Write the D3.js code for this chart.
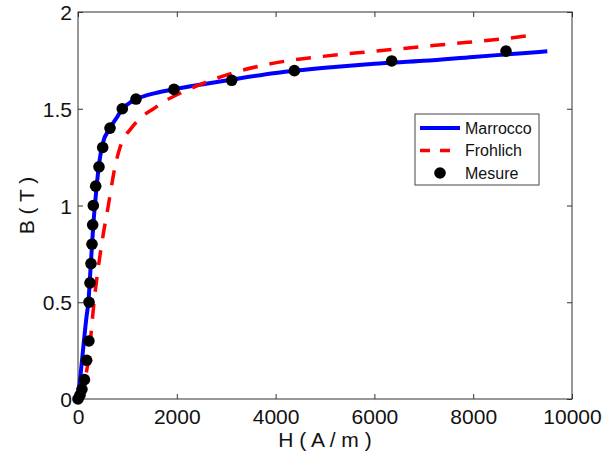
<!DOCTYPE html>
<html>
<head>
<meta charset="utf-8">
<script src="https://cdn.jsdelivr.net/npm/d3@7"></script>
<style>
  body { margin: 0; background: #fff; }
  text { font-family: "Liberation Sans", Arial, sans-serif; fill: #111; }
</style>
</head>
<body>
<div id="chart"></div>
<script>
// measured points
const mesureH = [0, 40, 80, 130, 175, 220, 223, 243, 263, 283, 297, 310, 358, 425, 500, 648, 897, 1174, 1943, 3111, 4380, 6350, 8664];
const mesureB = [0, 0.02, 0.05, 0.1, 0.2, 0.3, 0.5, 0.6, 0.7, 0.8, 0.9, 1.0, 1.1, 1.2, 1.3, 1.4, 1.5, 1.55, 1.6, 1.647, 1.697, 1.747, 1.798];

// Marrocco model curve
const marroccoH = [0, 50, 120, 170, 210, 260, 310, 360, 420, 500, 648, 800, 897, 1000, 1174, 1400, 1600, 2000, 2500, 3000, 4000, 5000, 6000, 7000, 8000, 9000, 9500];
const marroccoB = [0, 0.12, 0.3, 0.42, 0.5, 0.7, 0.9, 1.05, 1.2, 1.32, 1.40, 1.46, 1.50, 1.522, 1.55, 1.57, 1.583, 1.603, 1.625, 1.646, 1.685, 1.712, 1.733, 1.748, 1.768, 1.787, 1.797];

// Frohlich model curve
const frohlichH = [70, 142, 210, 324, 479, 614, 749, 850, 1080, 1300, 1530, 1795, 2065, 2571, 3158, 3738, 4278, 5000, 6000, 7240, 7834, 8421, 9184];
const frohlichB = [0, 0.1, 0.2, 0.5, 0.8, 1.0, 1.2, 1.3, 1.4, 1.46, 1.5, 1.545, 1.58, 1.635, 1.687, 1.724, 1.749, 1.772, 1.797, 1.828, 1.842, 1.856, 1.88];

const xTicks = [0, 2000, 4000, 6000, 8000, 10000];
const yTicks = [0, 0.5, 1, 1.5, 2];
const legendItems = ["Marrocco", "Frohlich", "Mesure"];

const width = 604, height = 457;
const margin = { left: 78, right: 32, top: 12, bottom: 58 };

const svg = d3.select("#chart")
    .append("svg")
    .attr("width", width)
    .attr("height", height);

const x = d3.scaleLinear().domain([0, 10000]).range([margin.left, width - margin.right]);
const y = d3.scaleLinear().domain([0, 2]).range([height - margin.bottom, margin.top]);

const x0 = x.range()[0], x1 = x.range()[1], y0 = y.range()[0], y1 = y.range()[1];

// axes with inward ticks, MATLAB style
const xAxis = svg.append("g")
    .attr("transform", "translate(0," + y0 + ")")
    .call(d3.axisBottom(x).tickValues(xTicks).tickSize(-5).tickPadding(10).tickFormat(d3.format("d")));
const xTop = svg.append("g")
    .attr("transform", "translate(0," + y1 + ")")
    .call(d3.axisTop(x).tickValues(xTicks).tickSize(-5).tickFormat(""));
const yAxis = svg.append("g")
    .attr("transform", "translate(" + x0 + ",0)")
    .call(d3.axisLeft(y).tickValues(yTicks).tickSize(-5).tickPadding(6).tickFormat(d => d));
const yRight = svg.append("g")
    .attr("transform", "translate(" + x1 + ",0)")
    .call(d3.axisRight(y).tickValues(yTicks).tickSize(-5).tickFormat(""));

[xAxis, xTop, yAxis, yRight].forEach(g => {
    g.select(".domain").remove();
    g.selectAll(".tick line").attr("stroke", "#333");
    g.selectAll("text").style("font-size", "21px").attr("fill", "#111");
});
xAxis.selectAll("text").attr("dy", "0.72em");
yAxis.selectAll("text").attr("dy", "0.36em");

// box
svg.append("rect")
    .attr("x", x0).attr("y", y1)
    .attr("width", x1 - x0).attr("height", y0 - y1)
    .attr("fill", "none").attr("stroke", "#333").attr("stroke-width", 1);

const line = d3.line().x(d => x(d[0])).y(d => y(d[1])).curve(d3.curveMonotoneX);

svg.append("path")
    .datum(marroccoH.map((h, i) => [h, marroccoB[i]]))
    .attr("d", line)
    .attr("fill", "none")
    .attr("stroke", "#0000ff")
    .attr("stroke-width", 4);

svg.append("path")
    .datum(frohlichH.map((h, i) => [h, frohlichB[i]]))
    .attr("d", line)
    .attr("fill", "none")
    .attr("stroke", "#ff0000")
    .attr("stroke-width", 3.5)
    .attr("stroke-dasharray", "15,12");

svg.selectAll(".dot")
    .data(mesureH.map((h, i) => [h, mesureB[i]]))
    .enter()
    .append("circle")
    .attr("class", "dot")
    .attr("cx", d => x(d[0]))
    .attr("cy", d => y(d[1]))
    .attr("r", 5.8)
    .attr("fill", "#000");

// axis labels
svg.append("text")
    .attr("x", (x0 + x1) / 2)
    .attr("y", 447)
    .attr("text-anchor", "middle")
    .style("font-size", "21px")
    .text("H ( A / m )");

svg.append("text")
    .attr("transform", "translate(34," + ((y0 + y1) / 2) + ") rotate(-90)")
    .attr("text-anchor", "middle")
    .style("font-size", "21px")
    .text("B ( T )");

// legend
const legend = svg.append("g").attr("transform", "translate(415,114)");
legend.append("rect")
    .attr("width", 124).attr("height", 71)
    .attr("fill", "#fff").attr("stroke", "#444").attr("stroke-width", 1);

const rows = legend.selectAll(".row")
    .data(legendItems)
    .enter()
    .append("g")
    .attr("transform", (d, i) => "translate(0," + (14 + i * 22.5) + ")");

rows.filter((d, i) => i === 0).append("line")
    .attr("x1", 5).attr("x2", 45).attr("y1", 0).attr("y2", 0)
    .attr("stroke", "#0000ff").attr("stroke-width", 4);
rows.filter((d, i) => i === 1).append("line")
    .attr("x1", 5).attr("x2", 45).attr("y1", 0).attr("y2", 0)
    .attr("stroke", "#ff0000").attr("stroke-width", 3.5)
    .attr("stroke-dasharray", "10,10");
rows.filter((d, i) => i === 2).append("circle")
    .attr("cx", 25).attr("cy", 0).attr("r", 5.8).attr("fill", "#000");

rows.append("text")
    .attr("x", 50).attr("y", 0).attr("dy", "0.36em")
    .style("font-size", "16px")
    .text(d => d);
</script>
</body>
</html>
